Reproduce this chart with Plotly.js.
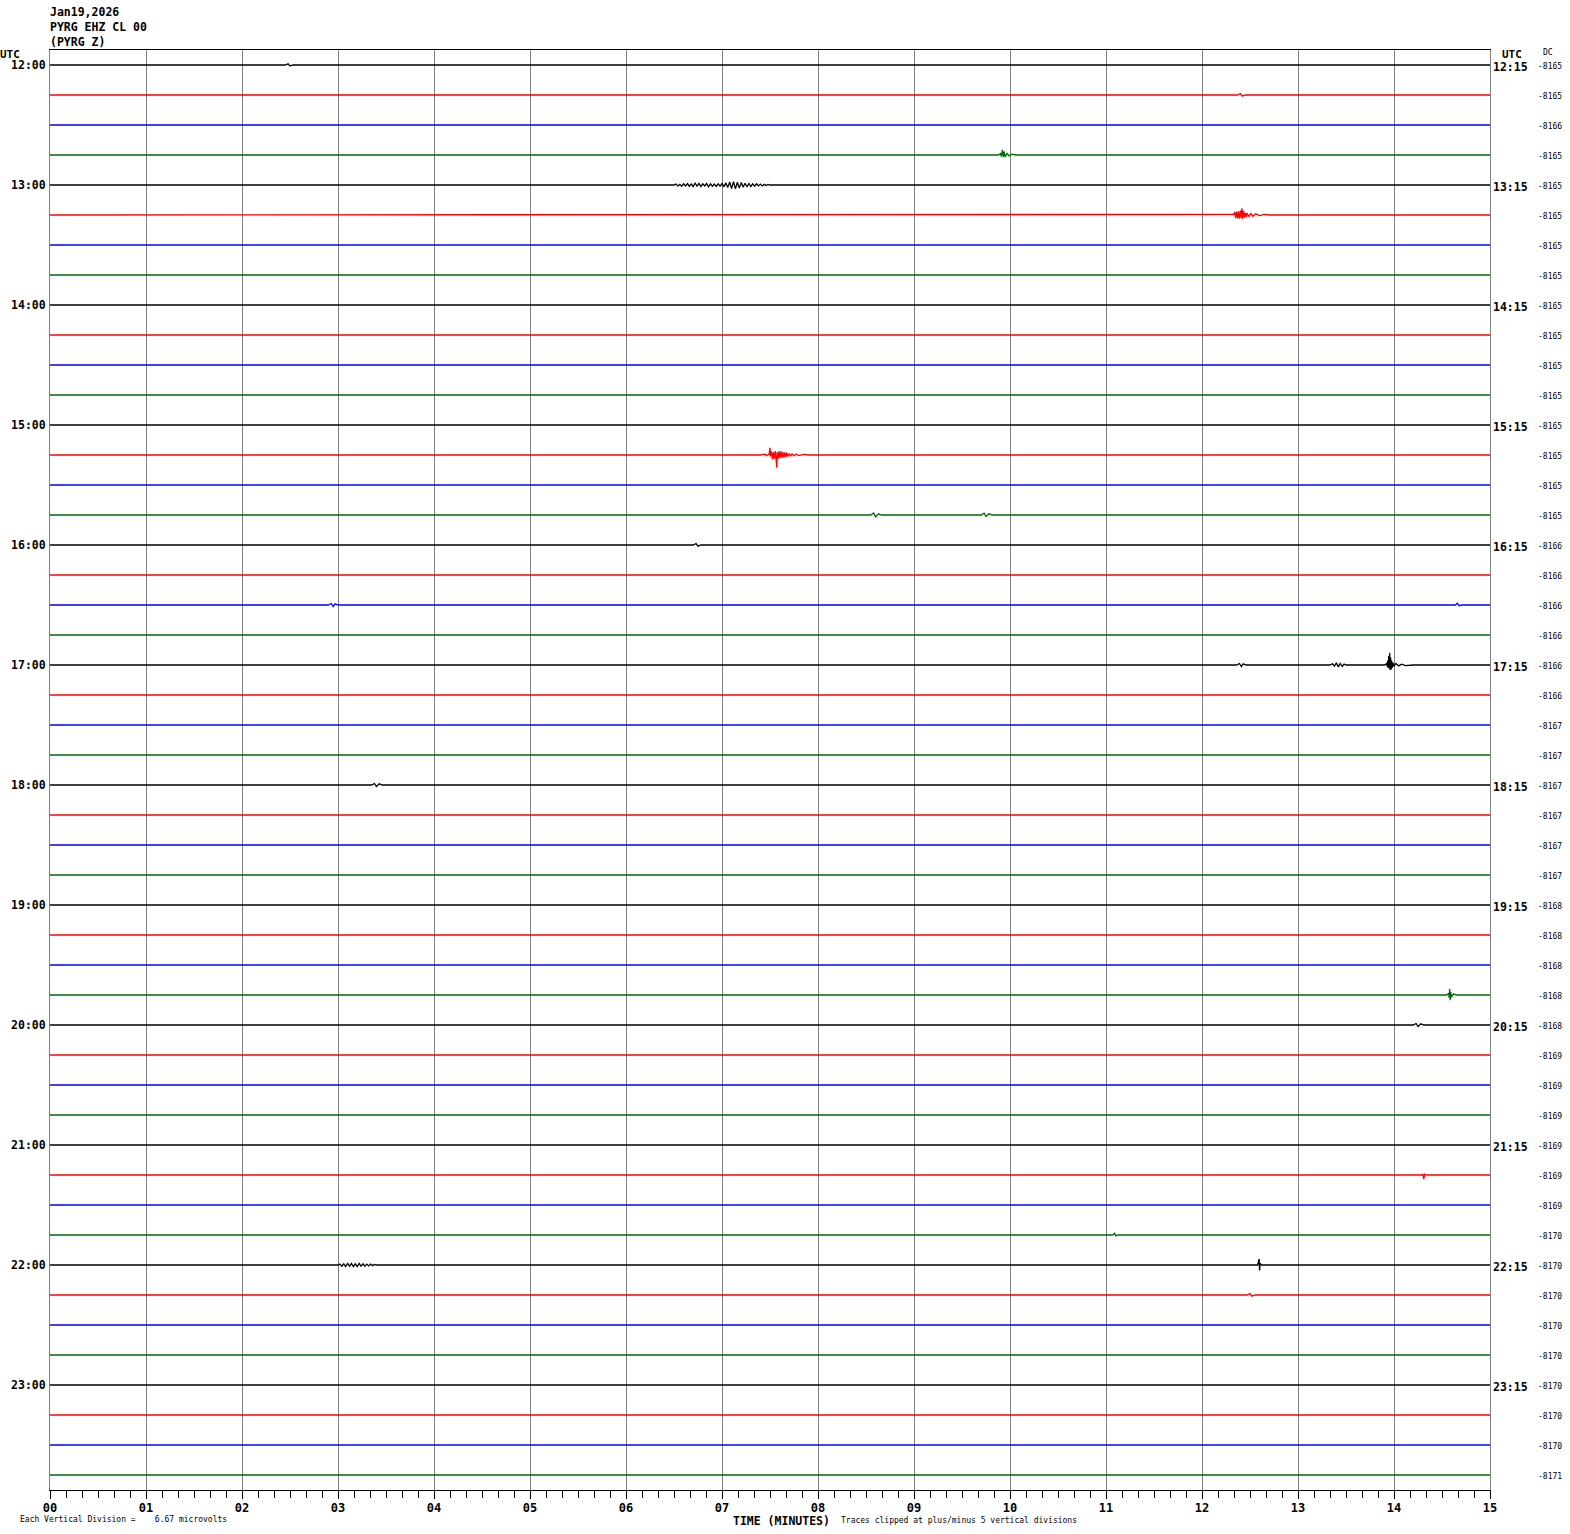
<!DOCTYPE html>
<html>
<head>
<meta charset="utf-8">
<script src="https://cdn.plot.ly/plotly-3.0.1.min.js"></script>
<style>
html,body{margin:0;padding:0;background:#fff;}
#chart{width:1570px;height:1534px;}
</style>
</head>
<body>
<div id="chart"></div>
<script>
// ---------- DATA ----------
const headerLines = ['Jan19,2026', 'PYRG EHZ CL 00', '(PYRG Z)'];
const leftHourLabels = ['12:00','13:00','14:00','15:00','16:00','17:00','18:00','19:00','20:00','21:00','22:00','23:00'];
const rightHourLabels = ['12:15','13:15','14:15','15:15','16:15','17:15','18:15','19:15','20:15','21:15','22:15','23:15'];
const dcValues = [
  -8165,-8165,-8166,-8165, -8165,-8165,-8165,-8165, -8165,-8165,-8165,-8165,
  -8165,-8165,-8165,-8165, -8166,-8166,-8166,-8166, -8166,-8166,-8167,-8167,
  -8167,-8167,-8167,-8167, -8168,-8168,-8168,-8168, -8168,-8169,-8169,-8169,
  -8169,-8169,-8169,-8170, -8170,-8170,-8170,-8170, -8170,-8170,-8170,-8171
];
const traceColors = ['#000000', '#ff0000', '#0000ff', '#006a00'];
const minuteTicks = [0,1,2,3,4,5,6,7,8,9,10,11,12,13,14,15];

// Seismic events: row index, times (minutes) and deflections (trace spacings, + = up)
const eventRow = [4, 5, 13, 20, 20, 20, 3, 31, 40, 40, 37, 15, 15, 18, 18, 16, 24, 32, 39, 41, 1, 0];
const eventTimes = [
  [6.50,6.52,6.54,6.56,6.58,6.60,6.62,6.64,6.66,6.68,6.70,6.72,6.74,6.76,6.78,6.80,6.82,6.84,6.86,6.88,6.90,6.92,6.94,6.96,6.98,
   7.00,7.02,7.04,7.06,7.08,7.10,7.12,7.14,7.16,7.18,7.20,7.22,7.24,7.26,7.28,7.30,7.32,7.34,7.36,7.38,7.40,7.42,7.44,7.46,7.48,7.50],
  [12.30,12.33,12.34,12.35,12.36,12.37,12.38,12.39,12.40,12.41,12.415,12.42,12.43,12.44,12.45,12.46,12.47,12.49,12.51,12.53,12.56,12.60,12.65,12.70],
  [7.40,7.45,7.46,7.49,7.50,7.505,7.515,7.525,7.535,7.545,7.555,7.565,7.57,7.575,7.585,7.595,7.605,7.615,7.625,7.635,7.645,7.655,7.665,7.675,7.685,7.70,7.715,7.73,7.75,7.77,7.80,7.85,7.90],
  [13.90,13.92,13.93,13.935,13.94,13.945,13.95,13.955,13.96,13.965,13.97,13.975,13.98,13.99,14.00,14.02,14.05,14.08,14.12,14.20],
  [13.33,13.36,13.38,13.40,13.42,13.44,13.46,13.48,13.50],
  [12.36,12.39,12.41,12.43,12.46],
  [9.88,9.90,9.91,9.92,9.93,9.94,9.95,9.97,9.99,10.02,10.06],
  [14.55,14.57,14.575,14.58,14.585,14.59,14.60,14.62,14.65],
  [12.58,12.595,12.60,12.605,12.62],
  [3.00,3.02,3.04,3.06,3.08,3.10,3.12,3.14,3.16,3.18,3.20,3.22,3.24,3.26,3.28,3.30,3.32,3.34,3.36,3.38,3.40],
  [14.29,14.30,14.31,14.32,14.34],
  [8.55,8.58,8.60,8.63,8.66],
  [9.70,9.73,9.75,9.78,9.82],
  [2.90,2.93,2.95,2.97,3.00],
  [14.64,14.66,14.68,14.70],
  [6.70,6.73,6.75,6.78],
  [3.35,3.38,3.40,3.43,3.46],
  [14.20,14.23,14.25,14.28,14.31],
  [11.07,11.09,11.10,11.12],
  [12.47,12.50,12.52,12.55],
  [12.37,12.40,12.42,12.45],
  [2.45,2.48,2.50,2.53]
];
const eventDefl = [
  [0,0.03,-0.03,0.02,-0.04,0.04,-0.03,0.05,-0.04,0.03,-0.05,0.06,-0.04,0.05,-0.05,0.04,-0.03,0.05,-0.06,0.04,-0.04,0.03,-0.05,0.04,-0.04,
   0.05,-0.06,0.07,-0.08,0.1,-0.12,0.11,-0.13,0.09,-0.1,0.08,-0.07,0.06,-0.06,0.05,-0.05,0.04,-0.04,0.04,-0.03,0.03,-0.03,0.02,-0.02,0.02,0],
  [0,0.02,0.1,-0.1,0.11,-0.11,0.12,-0.12,0.15,-0.1,0.22,-0.12,0.15,-0.09,0.08,-0.06,0.06,-0.05,0.05,-0.04,0.04,-0.02,0.02,0],
  [0,0.03,-0.02,0.02,0.24,-0.05,0.12,-0.15,0.1,-0.12,0.13,-0.2,-0.42,0.1,-0.12,0.13,-0.1,0.12,-0.1,0.1,-0.08,0.09,-0.07,0.08,-0.05,0.05,-0.04,0.04,-0.03,0.03,-0.02,0.02,0],
  [0,0.04,-0.05,0.15,-0.1,0.3,-0.12,0.41,-0.17,0.25,-0.15,0.15,-0.1,0.08,-0.05,0.05,-0.03,0.03,-0.02,0],
  [0,0.04,-0.04,0.07,-0.06,0.05,-0.05,0.03,0],
  [0,0.05,-0.05,0.04,0],
  [0,0.05,-0.05,0.17,-0.07,0.12,-0.06,0.05,-0.03,0.03,0],
  [0,0.06,-0.1,0.2,-0.17,0.1,-0.06,0.04,0],
  [0,0.2,-0.18,0.05,0],
  [0,0.03,-0.04,0.04,-0.05,0.05,-0.04,0.05,-0.05,0.04,-0.05,0.05,-0.04,0.04,-0.04,0.03,-0.03,0.03,-0.02,0.02,0],
  [0,0.04,-0.14,0.03,0],
  [0,0.07,-0.06,0.04,0],
  [0,0.06,-0.05,0.04,0],
  [0,0.05,-0.05,0.04,0],
  [0,0.06,-0.03,0],
  [0,0.05,-0.04,0],
  [0,0.05,-0.05,0.04,0],
  [0,0.05,-0.05,0.04,0],
  [0,0.06,-0.03,0],
  [0,0.05,-0.04,0],
  [0,0.05,-0.04,0],
  [0,0.04,-0.03,0]
];

// ---------- BUILD ----------
const nRows = dcValues.length;
const traces = [];
for (let r = 0; r < nRows; r++) {
  const pts = [[0, 0], [15, 0]];
  eventRow.forEach((row, k) => {
    if (row === r) eventTimes[k].forEach((t, j) => pts.push([t, eventDefl[k][j]]));
  });
  pts.sort((a, b) => a[0] - b[0]);
  traces.push({
    type: 'scatter', mode: 'lines',
    x: pts.map(p => p[0]),
    y: pts.map(p => r - p[1]),
    line: {color: traceColors[r % 4], width: 1.3},
    hoverinfo: 'skip', showlegend: false
  });
}

// plot area 50..1490 px both ways
const px2x = px => (px - 50) / 1440;
const py2y = py => (1490 - py) / 1440;
const mono = 'DejaVu Sans Mono, monospace';
const ann = [];
headerLines.forEach((t, i) => ann.push({
  text: t, xref: 'paper', yref: 'paper', x: px2x(48), y: py2y(12 + 15 * i),
  xanchor: 'left', yanchor: 'middle', showarrow: false,
  font: {family: mono, size: 11.5, color: '#000', weight: 'bold'}
}));
ann.push({text: 'UTC', xref: 'paper', yref: 'paper', x: px2x(-2), y: py2y(55), xanchor: 'left', yanchor: 'middle', showarrow: false,
  font: {family: mono, size: 11, color: '#000', weight: 'bold'}});
ann.push({text: 'UTC', xref: 'paper', yref: 'paper', x: px2x(1500), y: py2y(55), xanchor: 'left', yanchor: 'middle', showarrow: false,
  font: {family: mono, size: 11, color: '#000', weight: 'bold'}});
ann.push({text: 'DC', xref: 'paper', yref: 'paper', x: px2x(1541), y: py2y(53), xanchor: 'left', yanchor: 'middle', showarrow: false,
  font: {family: mono, size: 8, color: '#000'}});
rightHourLabels.forEach((t, i) => ann.push({
  text: t, xref: 'paper', yref: 'y', x: px2x(1491), y: i * 4 + 0.05,
  xanchor: 'left', yanchor: 'middle', showarrow: false,
  font: {family: mono, size: 11.5, color: '#000', weight: 'bold'}
}));
dcValues.forEach((v, i) => ann.push({
  text: String(v), xref: 'paper', yref: 'y', x: px2x(1536), y: i + 0.05,
  xanchor: 'left', yanchor: 'middle', showarrow: false,
  font: {family: mono, size: 8, color: '#000'}
}));
ann.push({text: 'TIME (MINUTES)', xref: 'paper', yref: 'paper', x: px2x(731), y: py2y(1521), xanchor: 'left', yanchor: 'middle', showarrow: false,
  font: {family: mono, size: 11.5, color: '#000', weight: 'bold'}});
ann.push({text: 'Traces clipped at plus/minus 5 vertical divisions', xref: 'paper', yref: 'paper', x: px2x(839), y: py2y(1520), xanchor: 'left', yanchor: 'middle', showarrow: false,
  font: {family: mono, size: 8, color: '#000'}});
ann.push({text: 'Each Vertical Division =    6.67 microvolts', xref: 'paper', yref: 'paper', x: px2x(18), y: py2y(1519), xanchor: 'left', yanchor: 'middle', showarrow: false,
  font: {family: mono, size: 8, color: '#000'}});

const layout = {
  width: 1570, height: 1534,
  margin: {l: 50, r: 80, t: 50, b: 44, pad: 0},
  paper_bgcolor: '#ffffff', plot_bgcolor: '#ffffff',
  showlegend: false,
  xaxis: {
    range: [0, 15], tickmode: 'array', tickvals: minuteTicks,
    ticktext: minuteTicks.map(m => String(m).padStart(2, '0')),
    showgrid: true, gridcolor: '#808080', gridwidth: 1, zeroline: false,
    showline: true, linecolor: '#000', linewidth: 1, mirror: true,
    ticks: 'outside', ticklen: 8, tickcolor: '#000', tickwidth: 1,
    minor: {tickmode: 'array', tickvals: Array.from({length: 91}, (_, i) => i / 6), ticks: 'outside', ticklen: 7, tickcolor: '#000', showgrid: false},
    tickfont: {family: mono, size: 12, color: '#000', weight: 'bold'},
    ticklabelstandoff: -1,
    fixedrange: true
  },
  yaxis: {
    range: [nRows - 0.5, -0.5], tickmode: 'array',
    tickvals: leftHourLabels.map((_, i) => i * 4), ticktext: leftHourLabels,
    showgrid: false, zeroline: false,
    showline: true, linecolor: '#808080', linewidth: 1, mirror: true,
    ticks: '', ticklabelstandoff: 1,
    tickfont: {family: mono, size: 11.5, color: '#000', weight: 'bold'},
    fixedrange: true
  },
  annotations: ann
};

Plotly.newPlot('chart', traces, layout, {displayModeBar: false, staticPlot: true});
</script>
</body>
</html>
